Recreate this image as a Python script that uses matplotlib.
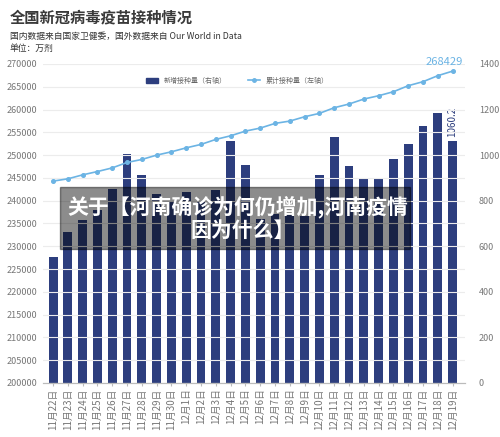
import numpy as np
import matplotlib
matplotlib.use('Agg')
import matplotlib.pyplot as plt
import matplotlib.patches as patches

plt.rcParams['font.family'] = ['Noto Sans CJK SC', 'DejaVu Sans']

# dates and values (单位：万剂)
dates = ['11月22日', '11月23日', '11月24日', '11月25日', '11月26日', '11月27日',
         '11月28日', '11月29日', '11月30日', '12月1日', '12月2日', '12月3日',
         '12月4日', '12月5日', '12月6日', '12月7日', '12月8日', '12月9日',
         '12月10日', '12月11日', '12月12日', '12月13日', '12月14日', '12月15日',
         '12月16日', '12月17日', '12月18日', '12月19日']
daily = [552, 661, 717, 758, 853, 1005, 911, 830, 800, 840, 800, 845,
         1061, 957, 720, 743, 738, 734, 911, 1080, 952, 897, 897, 985,
         1049, 1127, 1186, 1060.2]
total = [244300, 244800, 245670, 246400, 247200, 248390, 249050, 250000,
         250730, 251600, 252350, 253450, 254240, 255270, 255930, 256960,
         257470, 258420, 259160, 260400, 261210, 262300, 263030, 263910,
         265230, 266110, 267430, 268429]
left_ticks = np.arange(200000, 270001, 5000)
right_ticks = np.arange(0, 1401, 200)

bar_color = '#2d3e7e'
line_color = '#6cb4e4'
grey = '#777777'

fig = plt.figure(figsize=(5.0, 4.37), dpi=100)
ax = fig.add_axes([0.086, 0.1236, 0.844, 0.73])
ax2 = ax.twinx()

x = np.arange(len(dates))

# bars on the right axis
ax.bar(x, daily, width=0.6, color=bar_color, zorder=2)
ax.set_ylim(0, 1400)
ax.set_yticks(right_ticks)
ax.yaxis.tick_right()
ax.yaxis.set_label_position('right')
ax.set_xlim(-0.68, 27.84)
ax.set_xticks(x)
ax.set_xticklabels(dates, rotation=90, fontsize=7, color=grey)
ax.tick_params(axis='y', length=0, labelsize=6.5, labelcolor=grey, pad=10)
ax.tick_params(axis='x', length=2, color='#bbbbbb', pad=2)

# cumulative line on the left axis
ax2.plot(x, total, color=line_color, lw=1.2, marker='o', ms=2.6, zorder=3)
ax2.set_ylim(200000, 270000)
ax2.set_yticks(left_ticks)
ax2.yaxis.tick_left()
ax2.tick_params(axis='y', length=0, labelsize=6.5, labelcolor=grey, pad=4)
ax2.grid(axis='y', color='#ececec', lw=0.8, zorder=0)
ax2.set_axisbelow(True)

for a in (ax, ax2):
    for s in ('top', 'left', 'right'):
        a.spines[s].set_visible(False)
    a.spines['bottom'].set_color('#bbbbbb')

ax2.annotate(str(total[-1]), (x[-1], total[-1]), xytext=(-6, 3),
             textcoords='offset points', ha='center', va='bottom',
             fontsize=8, color=line_color)
ax.annotate('%.1f' % daily[-1], (x[-1], daily[-1]), xytext=(0, 3),
            textcoords='offset points', ha='center', va='bottom',
            rotation=90, fontsize=7, color=bar_color)

# legend
leg_h = [patches.Patch(color=bar_color),
         plt.Line2D([], [], color=line_color, marker='o', ms=2.5, lw=1.2)]
ax2.legend(leg_h, ['新增接种量（右轴）', '累计接种量（左轴）'], loc='upper center',
           bbox_to_anchor=(0.46, 0.98), ncol=2, frameon=False, fontsize=5,
           labelcolor='#666666', handlelength=1.8, columnspacing=3)

# titles
fig.text(0.02, 0.96, '全国新冠病毒疫苗接种情况', fontsize=11, fontweight='bold',
         color='#3a3a3a', va='center')
fig.text(0.02, 0.916, '国内数据来自国家卫健委，国外数据来自 Our World in Data',
         fontsize=6.3, color='#333333', va='center')
fig.text(0.02, 0.89, '单位：万剂', fontsize=6.3, color='#333333', va='center')

# overlay banner
fig.patches.append(patches.Rectangle((0.12, 0.43), 0.70, 0.143,
                                     transform=fig.transFigure, color='black',
                                     alpha=0.45, zorder=10))
fig.text(0.476, 0.527, '关于【河南确诊为何仍增加,河南疫情', fontsize=15,
         fontweight='bold', color='white', ha='center', va='center', zorder=11)
fig.text(0.485, 0.472, '因为什么】', fontsize=15, fontweight='bold',
         color='white', ha='center', va='center', zorder=11)

fig.savefig('out.png', dpi=100)
